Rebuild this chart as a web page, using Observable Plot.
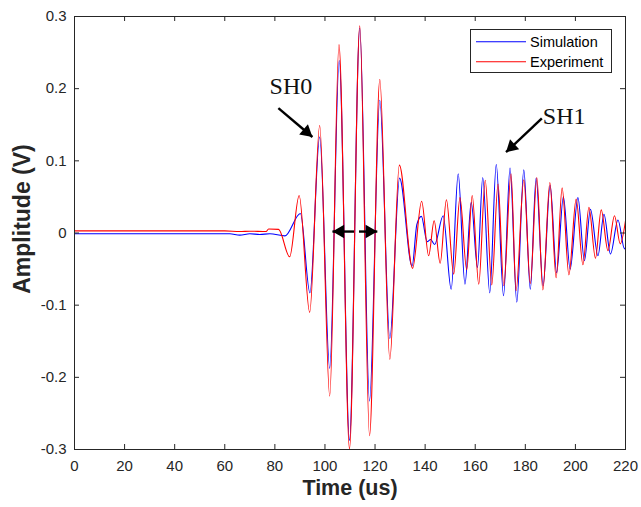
<!DOCTYPE html>
<html><head><meta charset="utf-8">
<script src="https://cdn.jsdelivr.net/npm/d3@7"></script>
<script src="https://cdn.jsdelivr.net/npm/@observablehq/plot@0.6"></script>
<style>body{margin:0;background:#fff}#wrap{position:relative;width:641px;height:507px}</style>
</head><body><div id="wrap"></div>
<script>
// Simulation (blue) - extrema
const simT = [0, 62, 66, 70, 74, 78, 84, 90.2, 94.0, 97.9, 101.9, 105.7, 109.8, 113.9, 117.8, 121.9, 125.9, 129.8, 134.8, 136.7, 138.5, 140.8, 142.2, 143.8, 147.2, 150.4, 153.2, 155.9, 158.4, 160.9, 163.0, 165.8, 168.4, 171.3, 173.9, 176.6, 179.4, 182.0, 184.3, 187.1, 189.9, 192.5, 195.2, 197.9, 201.0, 203.6, 206.0, 209.0, 211.4, 214.0, 217.0, 219.6, 220];
const simV = [-0.001, -0.001, -0.003, -0.001, -0.002, -0.001, -0.004, 0.027, -0.083, 0.133, -0.1875, 0.239, -0.2875, 0.284, -0.233, 0.184, -0.146, 0.076, -0.046, 0.012, 0.023, -0.012, -0.009, -0.016, 0.024, -0.078, 0.082, -0.071, 0.0425, -0.048, 0.077, -0.083, 0.095, -0.087, 0.090, -0.096, 0.0875, -0.078, 0.076, -0.073, 0.066, -0.055, 0.050, -0.050, 0.049, -0.0385, 0.033, -0.0315, 0.026, -0.029, 0.018, -0.022, -0.020];
// Experiment (red)
const expT = [0, 60, 66, 70, 76.5, 77.5, 81.5, 85.9, 89.7, 93.9, 97.9, 101.9, 105.6, 109.8, 113.9, 117.8, 121.9, 125.9, 129.7, 135.0, 138.6, 141.4, 143.6, 146.0, 148.5, 151.4, 153.9, 156.6, 158.8, 161.4, 164.0, 166.6, 169.1, 171.4, 174.3, 176.3, 179.4, 182.0, 184.6, 187.0, 189.8, 192.3, 194.7, 197.4, 200.3, 203.0, 205.4, 208.0, 210.3, 213.0, 215.6, 217.9, 220];
const expV = [0.003, 0.003, 0.002, 0.0025, 0.002, 0.0056, 0.005, -0.033, 0.052, -0.110, 0.149, -0.226, 0.261, -0.299, 0.287, -0.281, 0.213, -0.175, 0.094, -0.049, 0.044, -0.0315, 0.017, -0.042, 0.046, -0.057, 0.049, -0.051, 0.052, -0.071, 0.073, -0.072, 0.068, -0.073, 0.082, -0.080, 0.0736, -0.070, 0.077, -0.079, 0.070, -0.062, 0.0625, -0.058, 0.047, -0.044, 0.0356, -0.035, 0.032, -0.0246, 0.024, -0.015, 0.017];

const seriesNames = ["Simulation", "Experiment"];
const seriesColors = ["#0000ff", "#ff0000"];
const xTicks = [0, 20, 40, 60, 80, 100, 120, 140, 160, 180, 200, 220];
const yTicks = [-0.3, -0.2, -0.1, 0, 0.1, 0.2, 0.3];
const yTickLabels = ["-0.3", "-0.2", "-0.1", "0", "0.1", "0.2", "0.3"];
const xLabel = "Time (us)";
const yLabel = "Amplitude (V)";

// annotations
const shLabels = [{text: "SH0", x: 77.9, y: 0.203}, {text: "SH1", x: 187.0, y: 0.161}];
const arrows = [
  {x1: 81.4, y1: 0.173, x2: 95.0, y2: 0.133, rot: 130.5},
  {x1: 186.6, y1: 0.159, x2: 172.3, y2: 0.112, rot: -132.8},
  {x1: 111.6, y1: 0.002, x2: 103.0, y2: 0.002, rot: -90},
  {x1: 113.6, y1: 0.002, x2: 120.9, y2: 0.002, rot: 90}
];

const sim = simT.map((t, i) => ({t, v: simV[i]}));
const exp = expT.map((t, i) => ({t, v: expV[i]}));

const W = 641, H = 507, mL = 74, mR = 16, mT = 16, mB = 58;
const PW = W - mL - mR, PH = H - mT - mB, TK = 5;
const axisColor = "#262626";
const headR = 5;
const tipDist = 2 * Math.sqrt(Math.PI * headR * headR / (3 * Math.sqrt(3)));

const headMarks = arrows.map(a => {
  const th = a.rot * Math.PI / 180;
  return Plot.dot([a], {x: "x2", y: "y2", symbol: "triangle", r: headR, fill: "black", stroke: null,
    rotate: a.rot, dx: -tipDist * Math.sin(th), dy: tipDist * Math.cos(th)});
});

const plot = Plot.plot({
  width: W, height: H,
  marginLeft: mL, marginRight: mR, marginTop: mT, marginBottom: mB,
  style: {fontFamily: "'Liberation Sans', Arial, sans-serif", fontSize: "15px", color: axisColor, background: "white"},
  x: {domain: [0, 220], ticks: xTicks, tickSize: 0, tickPadding: 11, label: null, tickFormat: d => String(d)},
  y: {domain: [-0.3, 0.3], ticks: yTicks, tickSize: 0, tickPadding: 8, label: null,
      tickFormat: d => yTickLabels[yTicks.indexOf(d)]},
  marks: [
    Plot.line(sim, {x: "t", y: "v", stroke: seriesColors[0], strokeWidth: 1.1, curve: "monotone-x"}),
    Plot.line(exp, {x: "t", y: "v", stroke: seriesColors[1], strokeWidth: 1.1, curve: "monotone-x"}),
    Plot.tickX(xTicks, {x: d => d, insetTop: PH - TK, stroke: axisColor}),
    Plot.tickX(xTicks, {x: d => d, insetBottom: PH - TK, stroke: axisColor}),
    Plot.tickY(yTicks, {y: d => d, insetRight: PW - TK, stroke: axisColor}),
    Plot.tickY(yTicks, {y: d => d, insetLeft: PW - TK, stroke: axisColor}),
    Plot.frame({stroke: axisColor, strokeWidth: 1}),
    Plot.link(arrows, {x1: "x1", y1: "y1", x2: "x2", y2: "y2", stroke: "black", strokeWidth: 2.4}),
    ...headMarks,
    Plot.text(shLabels, {x: "x", y: "y", text: "text", textAnchor: "start", lineAnchor: "middle",
      fontFamily: "'Liberation Serif', 'Times New Roman', serif", fontSize: 24, fill: "#111"}),
    Plot.text([xLabel], {text: d => d, frameAnchor: "bottom", textAnchor: "middle", dy: 45, fontSize: 21.5, fontWeight: "bold", fill: axisColor}),
    Plot.text([yLabel], {text: d => d, frameAnchor: "left", textAnchor: "middle", dx: -52, dy: -14, rotate: -90,
      fontSize: 23, fontWeight: "bold", fill: axisColor, style: "letter-spacing:1.2px"})
  ]
});

const wrap = document.getElementById("wrap");
wrap.appendChild(plot);

// legend overlay (inside the axes, top-right)
const lg = d3.create("svg").attr("width", 144).attr("height", 46)
  .style("position", "absolute").style("left", "469px").style("top", "28px");
lg.append("rect").attr("x", 1.5).attr("y", 1.5).attr("width", 141).attr("height", 43)
  .attr("fill", "white").attr("stroke", axisColor).attr("stroke-width", 1);
seriesNames.forEach((name, i) => {
  const yy = 13.7 + i * 20;
  lg.append("line").attr("x1", 7).attr("x2", 57).attr("y1", yy).attr("y2", yy)
    .attr("stroke", seriesColors[i]).attr("stroke-width", 1.1);
  lg.append("text").attr("x", 61).attr("y", yy + 5).text(name)
    .attr("font-family", "'Liberation Sans', Arial, sans-serif").attr("font-size", 14.5).attr("fill", "#000");
});
wrap.appendChild(lg.node());
</script>
</body></html>
